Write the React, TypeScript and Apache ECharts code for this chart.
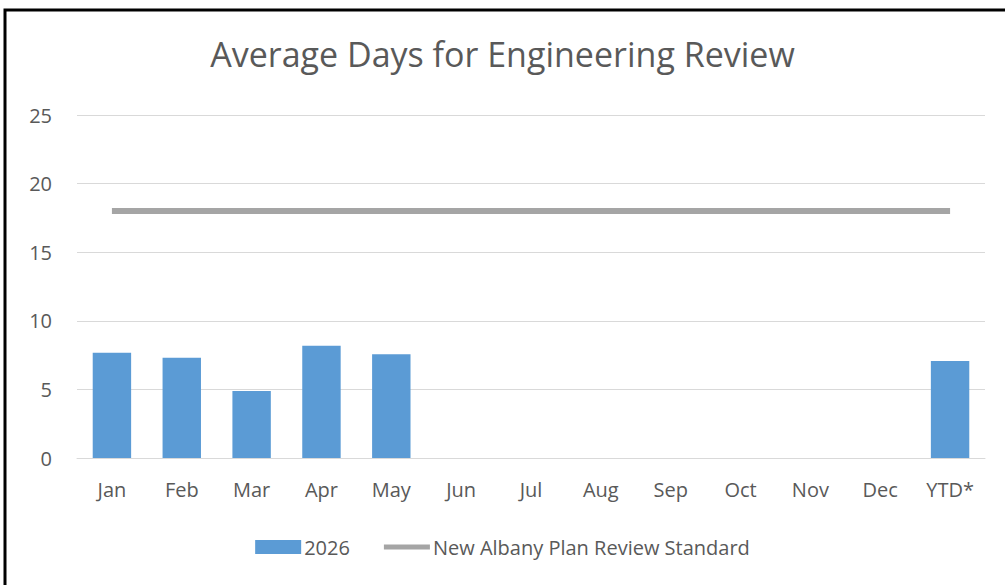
import React, { useEffect, useRef } from "react";
import * as echarts from "echarts";

const categories = ["Jan", "Feb", "Mar", "Apr", "May", "Jun", "Jul", "Aug", "Sep", "Oct", "Nov", "Dec", "YTD*"];
const values2026: (number | null)[] = [7.67, 7.31, 4.88, 8.19, 7.56, null, null, null, null, null, null, null, 7.07];
const standardValues = [18, 18, 18, 18, 18, 18, 18, 18, 18, 18, 18, 18, 18];
const FONT = "'Open Sans', sans-serif";

export default function App() {
  const ref = useRef<HTMLDivElement>(null);
  useEffect(() => {
    if (!ref.current) return;
    const chart = echarts.init(ref.current, null, { renderer: "svg" });
    chart.setOption({
      animation: false,
      backgroundColor: "#ffffff",
      title: {
        text: "Average Days for Engineering Review",
        left: "center",
        top: 32,
        textStyle: { fontFamily: FONT, fontSize: 34, fontWeight: "normal", color: "#595959" },
      },
      graphic: [
        {
          type: "rect",
          shape: { x: 5, y: 10, width: 1010, height: 590 },
          style: { fill: "none", stroke: "#000", lineWidth: 3 },
          silent: true,
        },
      ],
      grid: { left: 77, right: 20, top: 115, bottom: 127 },
      legend: {
        bottom: 23,
        left: "center",
        itemWidth: 46,
        itemHeight: 14,
        itemGap: 34,
        textStyle: { fontFamily: FONT, fontSize: 20, color: "#595959", padding: [0, 0, 0, -2] },
        data: [
          { name: "2026", icon: "rect" },
          {
            name: "New Albany Plan Review Standard",
            icon: "path://M0,0M0,14M0,4.5H46V9.5H0Z",
            itemStyle: { color: "#A5A5A5" },
          },
        ],
      },
      xAxis: {
        type: "category",
        data: categories,
        axisLine: { show: true, lineStyle: { color: "#d9d9d9", width: 1 } },
        axisTick: { show: false },
        axisLabel: { fontFamily: FONT, fontSize: 20, color: "#595959", margin: 21 },
      },
      yAxis: {
        type: "value",
        min: 0,
        max: 25,
        interval: 5,
        axisLine: { show: false },
        axisTick: { show: false },
        splitLine: { lineStyle: { color: "#d9d9d9", width: 1 } },
        axisLabel: { fontFamily: FONT, fontSize: 20, color: "#595959", margin: 25 },
      },
      series: [
        {
          name: "2026",
          type: "bar",
          data: values2026,
          barWidth: "55%",
          itemStyle: { color: "#5B9BD5" },
        },
        {
          name: "New Albany Plan Review Standard",
          type: "line",
          data: standardValues,
          symbol: "none",
          lineStyle: { color: "#A5A5A5", width: 6 },
          itemStyle: { color: "#A5A5A5" },
        },
      ],
    });
    return () => chart.dispose();
  }, []);
  return (
    <div style={{ position: "absolute", left: 0, top: 0, width: 1005, height: 585, overflow: "hidden" }}>
      <div ref={ref} style={{ width: 1005, height: 585 }} />
    </div>
  );
}
